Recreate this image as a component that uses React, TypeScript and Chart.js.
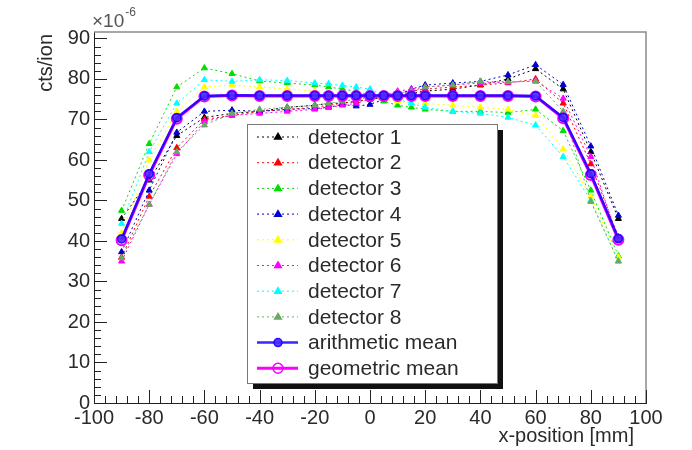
import React, { useEffect, useRef } from 'react';
import { Chart, registerables } from 'chart.js';

Chart.register(...registerables);

const xPositions = [-90, -80, -70, -60, -50, -40, -30, -20, -15, -10, -5, 0, 5, 10, 15, 20, 30, 40, 50, 60, 70, 80, 90];

const detector1 = [45.5, 55, 66, 70.5, 71.5, 72, 73, 73.5, 74, 74, 74.5, 75, 75.5, 76, 76.5, 77, 77.5, 78.5, 80, 82.5, 77.5, 62, 45.5];
const detector2 = [36, 51, 63, 70, 71, 72, 72.5, 73, 73.5, 74, 74.5, 75, 76, 76.5, 77, 77.5, 78, 78.5, 79, 80, 74, 59, 41];
const detector3 = [47.5, 64, 78, 82.7, 81.3, 79.5, 79, 78.5, 78, 77.5, 77, 76, 74.5, 73.5, 73, 72.5, 72, 72, 71.7, 72.5, 67.2, 52.5, 36.3];
const detector4 = [37.3, 52.5, 66.8, 72, 72.3, 72, 72.5, 72.7, 73, 73.7, 73.3, 73.7, 75, 76, 77.5, 78.5, 79, 79.4, 81, 83.5, 78.6, 63.4, 46.3];
const detector5 = [42, 60, 72, 78, 78.5, 78, 77.5, 77, 76.5, 76, 76, 75.5, 75, 74.5, 74, 74, 73.5, 73, 72.5, 71, 62.7, 51, 36];
const detector6 = [35, 49, 61.5, 69.5, 71, 71.5, 72, 72.5, 73, 73.5, 74, 75, 76, 77, 77.5, 78, 78.5, 79, 79.2, 79.5, 75.2, 60.8, 40];
const detector7 = [44.3, 62, 74, 79.8, 79.4, 79.8, 79.6, 79, 78.8, 78.4, 78, 77.5, 76, 75, 74, 73, 72, 71.5, 70.5, 68.6, 60.8, 50, 35];
const detector8 = [35.8, 49, 62, 68.6, 71.5, 72.5, 73, 73.5, 74, 74.5, 75, 75.5, 76, 76.5, 77, 78, 78.5, 79.4, 79.3, 79.4, 72, 49.7, 35];
const arithmeticMean = [40.5, 56.6, 70.4, 75.8, 76.0, 75.9, 75.9, 75.9, 75.9, 75.9, 75.9, 75.9, 75.9, 75.9, 75.9, 75.9, 75.9, 75.9, 75.9, 75.8, 70.5, 56.6, 40.6];
const geometricMean = [40.2, 56.3, 70.2, 75.7, 75.9, 75.8, 75.8, 75.8, 75.8, 75.8, 75.8, 75.8, 75.8, 75.8, 75.8, 75.8, 75.8, 75.8, 75.8, 75.7, 70.3, 56.3, 40.3];

const detectorLabels = ['detector 1', 'detector 2', 'detector 3', 'detector 4', 'detector 5', 'detector 6', 'detector 7', 'detector 8'];
const meanLabels = ['arithmetic mean', 'geometric mean'];
const xTicks = [-100, -80, -60, -40, -20, 0, 20, 40, 60, 80, 100];
const yTicks = [0, 10, 20, 30, 40, 50, 60, 70, 80, 90];

const detectorSeries = [detector1, detector2, detector3, detector4, detector5, detector6, detector7, detector8];
const detectorColors = ['#000000', '#ff0000', '#00dd00', '#0000cc', '#ffff00', '#ff00ff', '#00ffff', '#6aa866'];

const FONT = '"Liberation Sans", Arial, Helvetica, sans-serif';
const TEXT = '#2a2a2a';

const toPoints = (vals: number[]) => xPositions.map((x, i) => ({ x, y: vals[i] }));

const rootDecor = {
  id: 'rootDecor',
  beforeDatasetsDraw(chart: any) {
    const { ctx, chartArea: a, scales } = chart;
    const x = scales.x;
    const y = scales.y;
    ctx.save();
    // frame top/right
    ctx.strokeStyle = '#8a8a8a';
    ctx.lineWidth = 1.5;
    ctx.beginPath();
    ctx.moveTo(a.left, a.top);
    ctx.lineTo(a.right, a.top);
    ctx.lineTo(a.right, a.bottom);
    ctx.stroke();
    // inward ticks
    ctx.strokeStyle = '#222';
    ctx.lineWidth = 1;
    ctx.beginPath();
    for (let v = 0; v <= 91; v += 2) {
      const py = Math.round(y.getPixelForValue(v)) + 0.5;
      const len = v % 10 === 0 ? 13 : 7;
      ctx.moveTo(a.left, py);
      ctx.lineTo(a.left + len, py);
    }
    for (let v = -100; v <= 100; v += 4) {
      const px = Math.round(x.getPixelForValue(v)) + 0.5;
      const len = (v + 100) % 20 === 0 ? 13 : 7;
      ctx.moveTo(px, a.bottom);
      ctx.lineTo(px, a.bottom - len);
    }
    ctx.stroke();
    ctx.restore();
  },
  afterDraw(chart: any) {
    const { ctx } = chart;
    ctx.save();
    // axis titles
    ctx.fillStyle = TEXT;
    ctx.font = `20px ${FONT}`;
    ctx.textAlign = 'right';
    ctx.textBaseline = 'alphabetic';
    ctx.fillText('x-position [mm]', 634, 442);
    ctx.save();
    ctx.translate(52, 34);
    ctx.rotate(-Math.PI / 2);
    ctx.fillText('cts/ion', 0, 0);
    ctx.restore();
    // exponent
    ctx.fillStyle = '#555';
    ctx.textAlign = 'left';
    ctx.font = `19px ${FONT}`;
    ctx.fillText('×10', 92, 27);
    const w = ctx.measureText('×10').width;
    ctx.font = `12px ${FONT}`;
    ctx.fillText('-6', 92 + w + 1, 16);

    // legend
    const bx = 247, by = 124, bw = 250, bh = 259;
    ctx.fillStyle = '#111';
    ctx.fillRect(bx + 6, by + 6, bw, bh);
    ctx.fillStyle = '#fff';
    ctx.fillRect(bx, by, bw, bh);
    ctx.strokeStyle = '#777';
    ctx.lineWidth = 1;
    ctx.strokeRect(bx + 0.5, by + 0.5, bw, bh);
    const ds = chart.data.datasets;
    ds.forEach((d: any, i: number) => {
      const cy = 137 + i * 25.7;
      ctx.save();
      ctx.strokeStyle = d.borderColor;
      ctx.lineWidth = d.borderWidth;
      ctx.setLineDash(d.borderDash || []);
      ctx.beginPath();
      ctx.moveTo(257, cy);
      ctx.lineTo(298, cy);
      ctx.stroke();
      ctx.setLineDash([]);
      ctx.fillStyle = d.pointBackgroundColor;
      ctx.strokeStyle = d.pointBorderColor;
      ctx.lineWidth = 1.5;
      const mx = 278;
      const r = d.pointRadius;
      ctx.beginPath();
      if (d.pointStyle === 'triangle') {
        ctx.moveTo(mx, cy - r);
        ctx.lineTo(mx + r * 0.95, cy + r * 0.6);
        ctx.lineTo(mx - r * 0.95, cy + r * 0.6);
        ctx.closePath();
      } else {
        ctx.arc(mx, cy, r, 0, Math.PI * 2);
      }
      ctx.fill();
      ctx.stroke();
      ctx.restore();
      ctx.fillStyle = TEXT;
      ctx.font = `21px ${FONT}`;
      ctx.textAlign = 'left';
      ctx.textBaseline = 'middle';
      ctx.fillText(d.label, 308, cy + 1);
    });
    ctx.restore();
  },
};

export default function App() {
  const ref = useRef<HTMLCanvasElement | null>(null);
  useEffect(() => {
    if (!ref.current) return;
    const datasets: any[] = detectorSeries.map((vals, i) => ({
      label: detectorLabels[i],
      data: toPoints(vals),
      borderColor: detectorColors[i],
      backgroundColor: detectorColors[i],
      pointBackgroundColor: detectorColors[i],
      pointBorderColor: detectorColors[i],
      borderWidth: 1,
      borderDash: [2, 3],
      pointStyle: 'triangle',
      pointRadius: 3.5,
      pointBorderWidth: 1,
      order: 10 - i,
    }));
    datasets.push({
      label: meanLabels[0],
      data: toPoints(arithmeticMean),
      borderColor: 'rgba(20,0,255,0.85)',
      backgroundColor: 'rgba(20,0,255,0.85)',
      pointBackgroundColor: 'rgba(80,40,255,0.9)',
      pointBorderColor: 'rgba(20,0,255,0.9)',
      borderWidth: 2.5,
      pointStyle: 'circle',
      pointRadius: 4,
      pointBorderWidth: 1.5,
      order: 0,
    });
    datasets.push({
      label: meanLabels[1],
      data: toPoints(geometricMean),
      borderColor: '#ff00ff',
      backgroundColor: '#ff00ff',
      pointBackgroundColor: 'rgba(255,0,255,0.0)',
      pointBorderColor: '#ee00ff',
      borderWidth: 3,
      pointStyle: 'circle',
      pointRadius: 5,
      pointBorderWidth: 2,
      order: 1,
    });

    const chart = new Chart(ref.current, {
      type: 'line',
      data: { datasets },
      plugins: [rootDecor],
      options: {
        responsive: false,
        animation: false,
        devicePixelRatio: 1,
        layout: { padding: { top: 32, right: 46, left: 0, bottom: 0 } },
        plugins: { legend: { display: false }, tooltip: { enabled: false } },
        elements: { line: { tension: 0 } },
        scales: {
          x: {
            type: 'linear',
            min: -100,
            max: 100,
            afterBuildTicks: (s: any) => { s.ticks = xTicks.map((v) => ({ value: v })); },
            afterFit: (s: any) => { s.height = 47; },
            ticks: { font: { size: 20, family: FONT }, color: TEXT, padding: 3, maxRotation: 0, autoSkip: false, callback: (v: any) => String(v) },
            grid: { drawOnChartArea: false, drawTicks: false },
            border: { display: true, color: '#222', width: 1 },
          },
          y: {
            type: 'linear',
            min: 0,
            max: 91.6,
            afterBuildTicks: (s: any) => { s.ticks = yTicks.map((v) => ({ value: v })); },
            afterFit: (s: any) => { s.width = 94; },
            ticks: { font: { size: 20, family: FONT }, color: TEXT, padding: 4, autoSkip: false, callback: (v: any) => String(v) },
            grid: { drawOnChartArea: false, drawTicks: false },
            border: { display: true, color: '#222', width: 1 },
          },
        },
      },
    });
    return () => chart.destroy();
  }, []);
  return (
    <div style={{ position: 'absolute', left: 0, top: 0, width: 692, height: 450, background: '#fff' }}>
      <canvas ref={ref} width={692} height={450} style={{ width: 692, height: 450, display: 'block' }} />
    </div>
  );
}
